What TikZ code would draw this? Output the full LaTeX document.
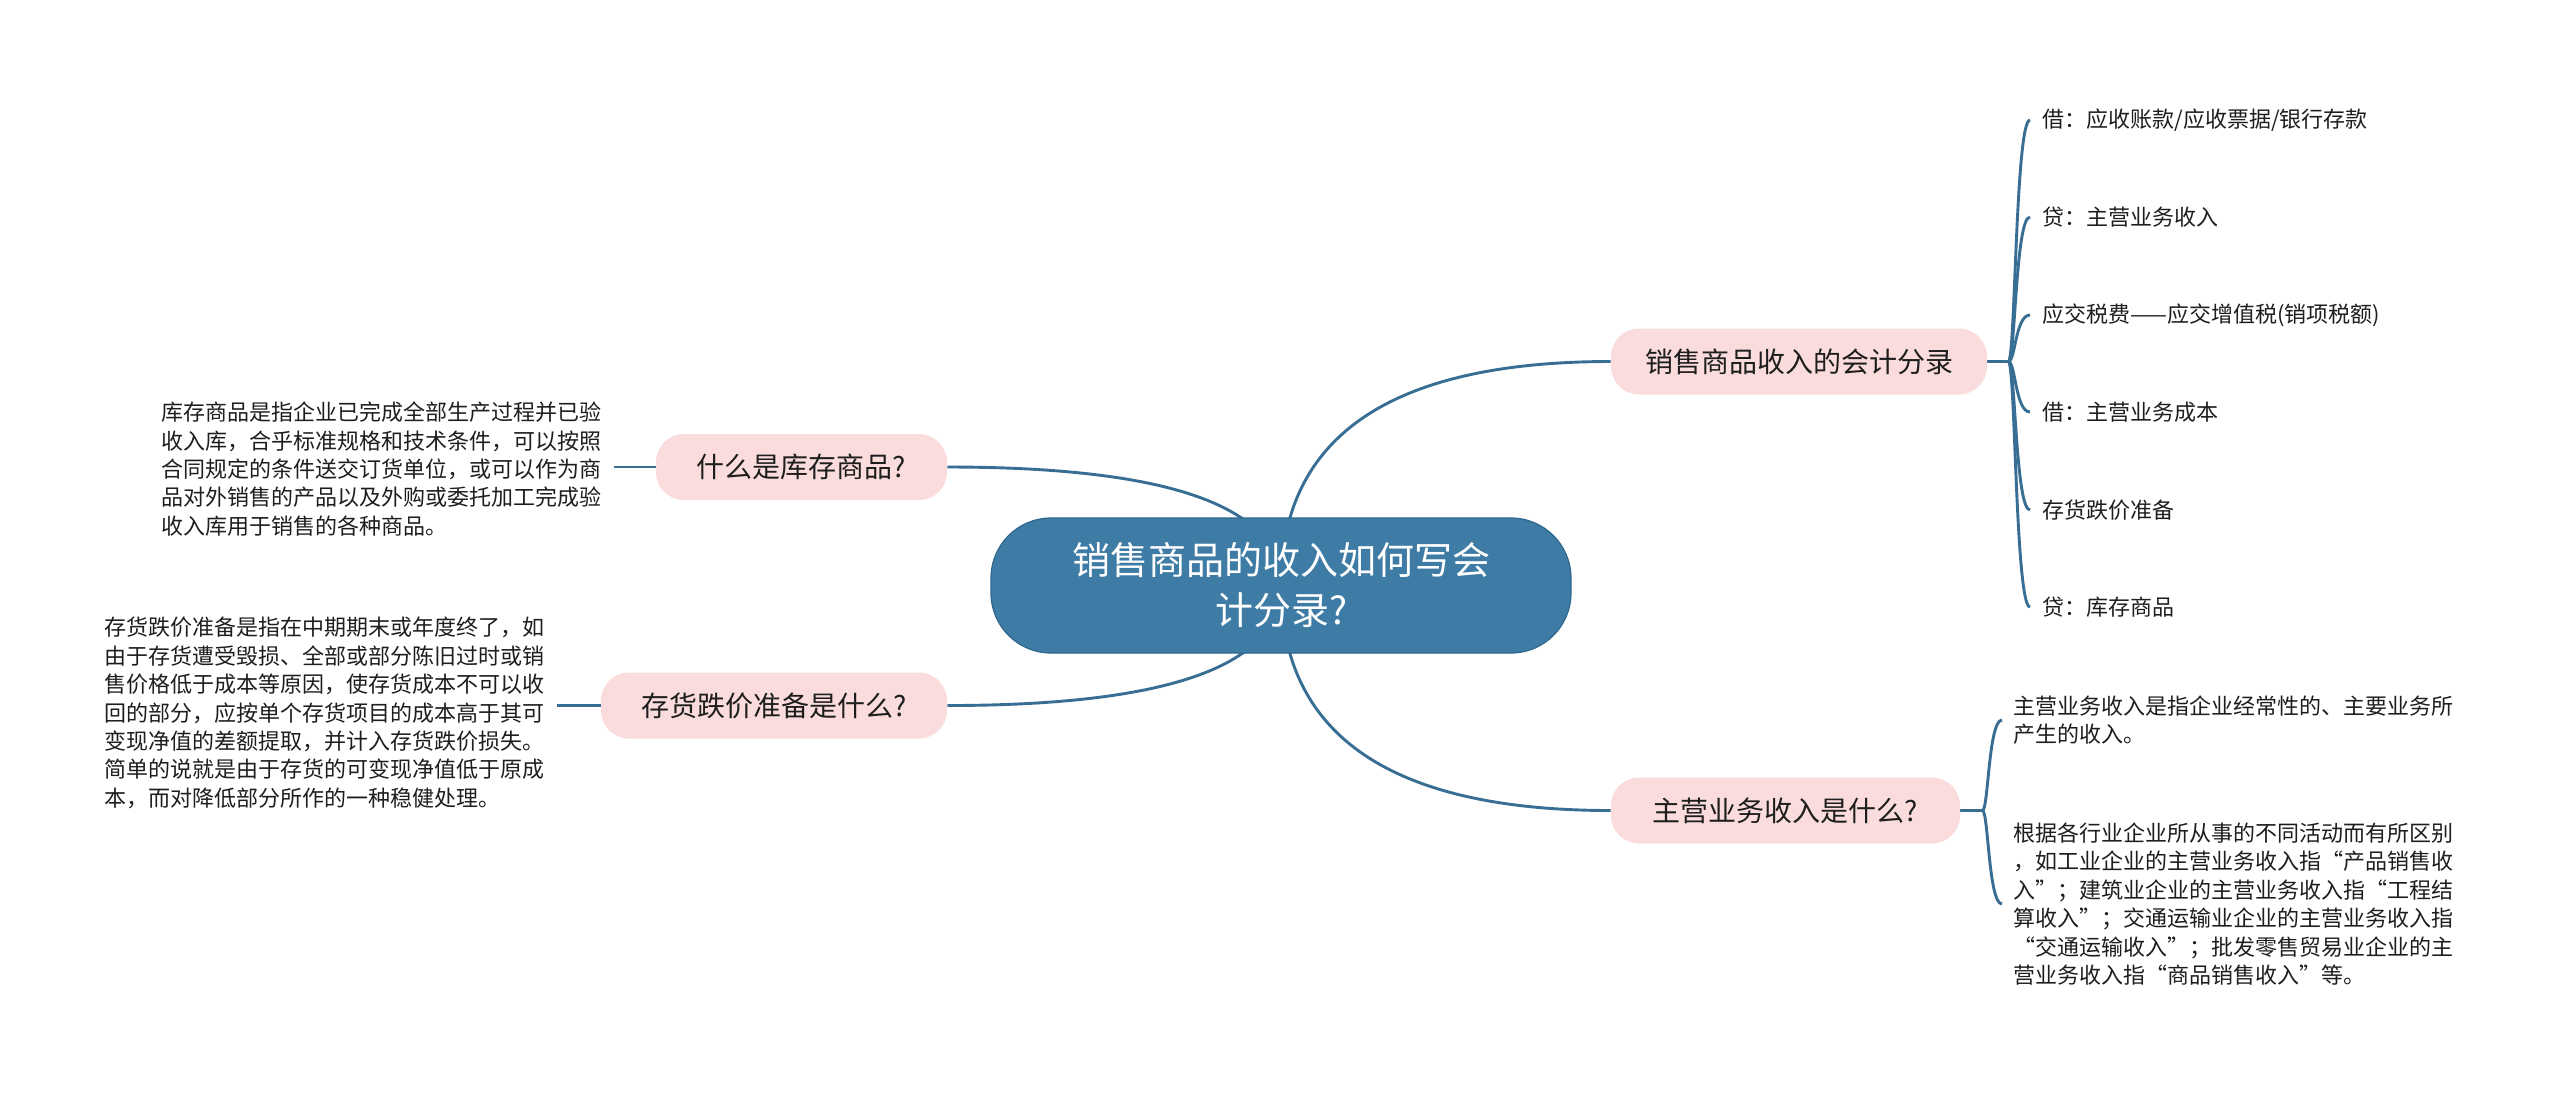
\documentclass[tikz,border=0pt]{standalone}
\usepackage{fontspec}
\setmainfont{Noto Sans CJK SC}
\usetikzlibrary{calc}
\definecolor{hub}{RGB}{62,124,165}
\definecolor{hubline}{RGB}{48,104,142}
\definecolor{pinkbg}{RGB}{250,220,220}
\definecolor{conn}{RGB}{56,110,148}
\definecolor{txt}{RGB}{30,30,30}
\pgfdeclarelayer{bg}
\pgfdeclarelayer{paper}
\pgfsetlayers{paper,bg,main}
\begin{document}
\begin{tikzpicture}[x=0.5pt,y=-0.5pt,
  hubnode/.style={draw=hubline, line width=0.6pt, fill=hub, rounded corners=30pt,
    minimum width=290pt, minimum height=67.5pt, text=white, align=center,
    font=\fontsize{19pt}{25pt}\selectfont, inner sep=0pt},
  topic/.style={fill=pinkbg, rounded corners=14pt, minimum height=33pt, inner sep=0pt,
    text=txt, font=\fontsize{14pt}{17pt}\selectfont},
  leaf/.style={text=txt, font=\fontsize{11pt}{14.2pt}\selectfont, align=left, inner ysep=2pt},
  link/.style={draw=conn, line width=1.45pt},
]
\begin{pgfonlayer}{paper}
\fill[white] (0,0) rectangle (2560,1094);
\end{pgfonlayer}
\useasboundingbox (0,0) rectangle (2560,1094);

% central and topic nodes
\node[hubnode] (C) at (1281,585.5) {销售商品的收入如何写会\\计分录?};
\node[topic, minimum width=145.5pt] (T1) at (801.5,467) {什么是库存商品?};
\node[topic, minimum width=173pt] (T2) at (774,705.5) {存货跌价准备是什么?};
\node[topic, minimum width=188pt] (T3) at (1799,361.5) {销售商品收入的会计分录};
\node[topic, minimum width=174.5pt] (T4) at (1785.5,810.5) {主营业务收入是什么?};

% left leaves
\node[leaf, anchor=east, inner xsep=6pt] (P1) at (614,469) {库存商品是指企业已完成全部生产过程并已验\\收入库，合乎标准规格和技术条件，可以按照\\合同规定的条件送交订货单位，或可以作为商\\品对外销售的产品以及外购或委托加工完成验\\收入库用于销售的各种商品。};
\node[leaf, anchor=east, inner xsep=6pt] (P2) at (557,713) {存货跌价准备是指在中期期末或年度终了，如\\由于存货遭受毁损、全部或部分陈旧过时或销\\售价格低于成本等原因，使存货成本不可以收\\回的部分，应按单个存货项目的成本高于其可\\变现净值的差额提取，并计入存货跌价损失。\\简单的说就是由于存货的可变现净值低于原成\\本，而对降低部分所作的一种稳健处理。};

% right leaves of T3
\node[leaf, anchor=west, inner xsep=6pt] (A1) at (2030,120) {借：应收账款/应收票据/银行存款};
\node[leaf, anchor=west, inner xsep=6pt] (A2) at (2030,217) {贷：主营业务收入};
\node[leaf, anchor=west, inner xsep=6pt] (A3) at (2030,315) {应交税费——应交增值税(销项税额)};
\node[leaf, anchor=west, inner xsep=6pt] (A4) at (2030,412) {借：主营业务成本};
\node[leaf, anchor=west, inner xsep=6pt] (A5) at (2030,510) {存货跌价准备};
\node[leaf, anchor=west, inner xsep=6pt] (A6) at (2030,607) {贷：库存商品};

% right leaves of T4
\node[leaf, anchor=west, inner xsep=5.5pt] (B1) at (2002,720) {主营业务收入是指企业经常性的、主要业务所\\产生的收入。};
\node[leaf, anchor=west, inner xsep=5.5pt] (B2) at (2002,904) {根据各行业企业所从事的不同活动而有所区别\\，如工业企业的主营业务收入指“产品销售收\\入”；建筑业企业的主营业务收入指“工程结\\算收入”；交通运输业企业的主营业务收入指\\“交通运输收入”；批发零售贸易业企业的主\\营业务收入指“商品销售收入”等。};

\coordinate (k1) at (C.center |- T1.east);
\coordinate (k2) at (C.center |- T2.east);
\coordinate (k3) at (C.center |- T3.west);
\coordinate (k4) at (C.center |- T4.west);
\coordinate (S3) at ($(T3.east)+(21,0)$);
\coordinate (S4) at ($(T4.east)+(22,0)$);

\begin{pgfonlayer}{bg}
\draw[link] (C.center) .. controls ($(C.center)!2/3!(k1)$) and ($(T1.east)!2/3!(k1)$) .. (T1.east);
\draw[link] (C.center) .. controls ($(C.center)!2/3!(k2)$) and ($(T2.east)!2/3!(k2)$) .. (T2.east);
\draw[link] (C.center) .. controls ($(C.center)!2/3!(k3)$) and ($(T3.west)!2/3!(k3)$) .. (T3.west);
\draw[link] (C.center) .. controls ($(C.center)!2/3!(k4)$) and ($(T4.west)!2/3!(k4)$) .. (T4.west);
\draw[link] (P1.east |- T1.west) -- (T1.west);
\draw[link] (P2.east |- T2.west) -- (T2.west);
\draw[link] (T3.east) -- (S3);
\foreach \n in {A1,A2,A3,A4,A5,A6}
  \draw[link] (S3) .. controls ($(S3)+(7,0)$) and ($(S3|-\n.west)+(7,0)$) .. (\n.west);
\draw[link] (T4.east) -- (S4);
\foreach \n in {B1,B2}
  \draw[link] (S4) .. controls ($(S4)+(6,0)$) and ($(S4|-\n.west)+(6,0)$) .. (\n.west);
\end{pgfonlayer}
\end{tikzpicture}
\end{document}
